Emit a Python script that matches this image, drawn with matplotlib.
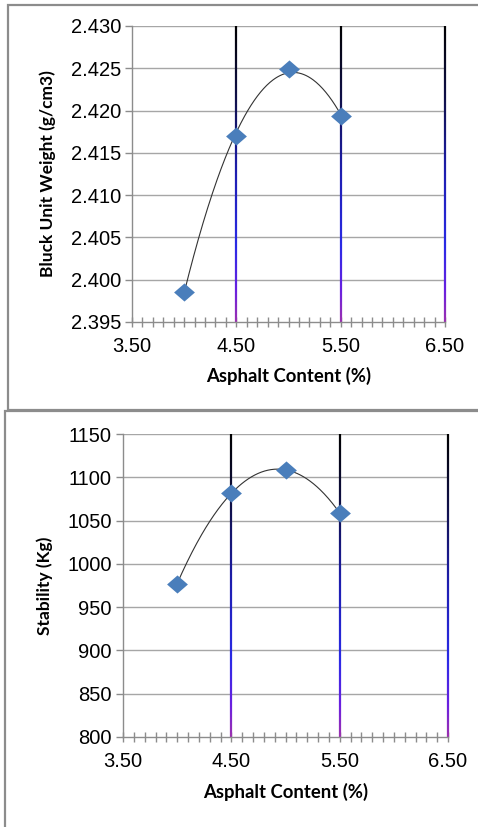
import numpy as np
import matplotlib
matplotlib.use("Agg")
import matplotlib.pyplot as plt
from matplotlib.collections import LineCollection
from matplotlib.colors import LinearSegmentedColormap
from matplotlib.patches import Rectangle
from matplotlib.path import Path
from matplotlib.ticker import MultipleLocator, FixedLocator

# ---- data ----
asphalt = [4.0, 4.5, 5.0, 5.5]
unit_weight = [2.3986, 2.4170, 2.4249, 2.4194]
stability = [977, 1082, 1108, 1059]
x_ticks = [3.5, 4.5, 5.5, 6.5]
x_tick_labels = ["3.50", "4.50", "5.50", "6.50"]
uw_ticks = [2.395, 2.400, 2.405, 2.410, 2.415, 2.420, 2.425, 2.430]
uw_tick_labels = ["2.395", "2.400", "2.405", "2.410", "2.415", "2.420", "2.425", "2.430"]
st_ticks = [800, 850, 900, 950, 1000, 1050, 1100, 1150]
st_tick_labels = ["800", "850", "900", "950", "1000", "1050", "1100", "1150"]

W, H = 478, 827
fig = plt.figure(figsize=(W / 100, H / 100), dpi=100)
fig.patch.set_facecolor("white")

# panel borders
border_col = "#8c8c8c"
fig.add_artist(Rectangle((8 / W, 1 - 410 / H), (482 - 8) / W, (410 - 5) / H,
                         transform=fig.transFigure, fill=False, lw=1.6,
                         edgecolor=border_col, clip_on=False))
fig.add_artist(Rectangle((5 / W, 1 - 832 / H), (482 - 5) / W, (832 - 411) / H,
                         transform=fig.transFigure, fill=False, lw=1.6,
                         edgecolor=border_col, clip_on=False))

grad = LinearSegmentedColormap.from_list(
    "g", [(0.0, "#9a30b0"), (0.1, "#6a20e0"), (0.25, "#2a2ae6"),
          (0.5, "#1e1eb0"), (0.75, "#10104a"), (1.0, "#000000")])

diamond = Path([(0, 1), (1.15, 0), (0, -1), (-1.15, 0), (0, 1)],
               [Path.MOVETO, Path.LINETO, Path.LINETO, Path.LINETO, Path.CLOSEPOLY])

tick_font = dict(family=["Liberation Sans", "DejaVu Sans"], size=14.5)
xlabel_font = dict(family=["Lato", "DejaVu Sans"], weight="bold", size=13.3)
ylabel_font = dict(family=["Lato", "DejaVu Sans"], weight="bold", size=12.5)


def make_panel(rect, yvals, yticks, ylabels, ylabel, xlab_y, ylab_x):
    ax = fig.add_axes(rect)
    ymin, ymax = yticks[0], yticks[-1]
    ax.set_xlim(3.5, 6.5)
    ax.set_ylim(ymin, ymax)
    for s in ["top", "right"]:
        ax.spines[s].set_visible(False)
    for s in ["left", "bottom"]:
        ax.spines[s].set_color("#8c8c8c")
        ax.spines[s].set_linewidth(1.0)
    # horizontal grid
    for yv in yticks[1:]:
        ax.axhline(yv, color="#a6a6a6", lw=1.0, zorder=1)
    # gradient vertical grid lines
    n = 120
    ys = np.linspace(ymin, ymax, n + 1)
    for xv in x_ticks[1:]:
        segs = [[(xv, ys[i]), (xv, ys[i + 1])] for i in range(n)]
        lc = LineCollection(segs, cmap=grad, linewidths=1.6, zorder=2)
        lc.set_array((ys[:-1] - ymin) / (ymax - ymin))
        lc.set_clim(0, 1)
        lc.set_clip_on(False)
        ax.add_collection(lc)
    # trendline (polynomial order 2)
    coef = np.polyfit(asphalt, yvals, 2)
    xs = np.linspace(asphalt[0], asphalt[-1], 200)
    ax.plot(xs, np.polyval(coef, xs), color="#333333", lw=0.8, zorder=3)
    ax.plot(asphalt, yvals, linestyle="none", marker=diamond, markersize=15,
            color="#4a7ebb", markeredgewidth=0, zorder=4, clip_on=False)
    # ticks
    ax.xaxis.set_major_locator(FixedLocator(x_ticks))
    ax.set_xticklabels(x_tick_labels, **tick_font)
    ax.xaxis.set_minor_locator(MultipleLocator(0.1))
    ax.tick_params(axis="x", which="both", direction="inout", length=7,
                   color="#8c8c8c", width=1.0, pad=7)
    ax.yaxis.set_major_locator(FixedLocator(yticks))
    ax.set_yticklabels(ylabels, **tick_font)
    ax.tick_params(axis="y", which="major", direction="out", length=5,
                   color="#8c8c8c", width=1.0, pad=3)
    fig.text(rect[0] + rect[2] / 2, xlab_y, "Asphalt Content (%)",
             ha="center", va="center", **xlabel_font)
    fig.text(ylab_x, rect[1] + rect[3] / 2, ylabel, rotation=90,
             ha="center", va="center", **ylabel_font)
    return ax


make_panel([132 / W, 1 - 322 / H, (445 - 132) / W, (322 - 26) / H],
           unit_weight, uw_ticks, uw_tick_labels,
           "Bluck Unit Weight (g/cm3)", 1 - 376 / H, 48 / W)
make_panel([123 / W, 1 - 737 / H, (448 - 123) / W, (737 - 434) / H],
           stability, st_ticks, st_tick_labels,
           "Stability (Kg)", 1 - 792 / H, 45 / W)

fig.savefig("out.png", dpi=100, facecolor="white")
